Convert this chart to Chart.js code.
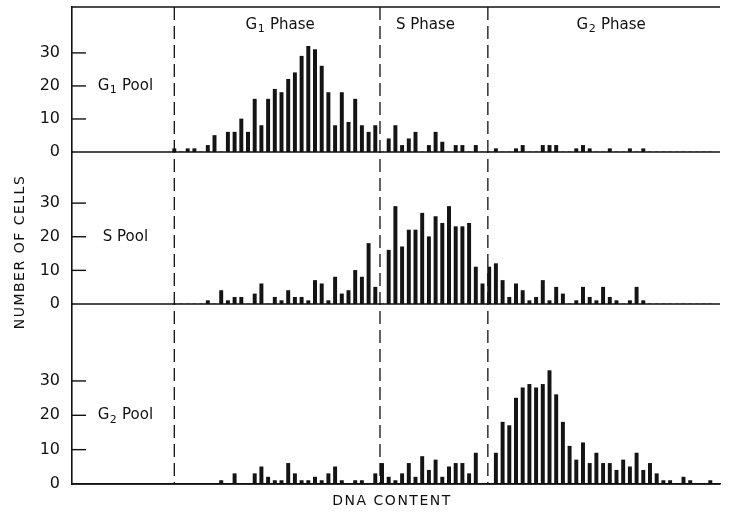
<!DOCTYPE html>
<html><head><meta charset="utf-8">
<script src="https://cdn.jsdelivr.net/npm/chart.js@4/dist/chart.umd.min.js"></script>
<style>html,body{margin:0;padding:0;background:#fff;}#wrap{width:735px;height:512px;}</style>
</head><body><div id="wrap"><canvas id="c" width="735" height="512"></canvas></div>
<script>
// DNA content channel (bin) numbers
const bins = [0,1,2,3,4,5,6,7,8,9,10,11,12,13,14,15,16,17,18,19,20,21,22,23,24,25,26,27,28,29,30,31,32,33,34,35,36,37,38,39,40,41,42,43,44,45,46,47,48,49,50,51,52,53,54,55,56,57,58,59,60,61,62,63,64,65,66,67,68,69,70,71,72,73,74,75,76,77,78,79,80];
// Number of cells per channel
const g1Pool = [1,0,1,1,0,2,5,0,6,6,10,6,16,8,16,19,18,22,24,29,32,31,26,18,8,18,9,16,8,6,8,0,4,8,2,4,6,0,2,6,3,0,2,2,0,2,0,0,1,0,0,1,2,0,0,2,2,2,0,0,1,2,1,0,0,1,0,0,1,0,1,0,0,0,0,0,0,0,0,0,0];
const sPool  = [0,0,0,0,0,1,0,4,1,2,2,0,3,6,0,2,1,4,2,2,1,7,6,1,8,3,4,10,8,18,5,0,16,29,17,22,22,27,20,26,24,29,23,23,24,11,6,11,12,7,2,6,4,1,2,7,1,5,3,0,1,5,2,1,5,2,1,0,1,5,1,0,0,0,0,0,0,0,0,0,0];
const g2Pool = [0,0,0,0,0,0,0,1,0,3,0,0,3,5,2,1,1,6,3,1,1,2,1,3,5,1,0,1,1,0,3,6,2,1,3,6,2,8,4,7,2,5,6,6,3,9,0,0,9,18,17,25,28,29,28,29,33,26,18,11,7,12,6,9,6,6,4,7,5,9,4,6,3,1,1,0,2,1,0,0,1];
const poolLabels = [["G","1"," Pool"],["S",""," Pool"],["G","2"," Pool"]];
const phaseLabels = [["G","1"," Phase"],["S",""," Phase"],["G","2"," Phase"]];
const phaseLabelPos = [15.8, 37.5, 65.2];       // x (channel) of phase label centres
const phaseBounds = [0, 30.7, 46.8];            // dashed phase boundaries (channel)
const yTicks = [0, 10, 20, 30];
const xTitle = "DNA CONTENT";
const yTitle = "NUMBER OF CELLS";

const FONT = "'DejaVu Sans', 'Liberation Sans', sans-serif";
const toXY = vals => bins.map((b, i) => ({x: b, y: vals[i]}));

function subText(ctx, parts, x, y, size) {
  const [a, s, b] = parts;
  ctx.font = size + "px " + FONT;
  const wa = ctx.measureText(a).width, wb = ctx.measureText(b).width;
  ctx.font = Math.round(size * 0.75) + "px " + FONT;
  const ws = s ? ctx.measureText(s).width + 1 : 0;
  let cx = x - (wa + ws + wb) / 2;
  ctx.textAlign = "left"; ctx.textBaseline = "middle";
  ctx.font = size + "px " + FONT; ctx.fillText(a, cx, y); cx += wa;
  if (s) { ctx.font = Math.round(size * 0.75) + "px " + FONT; ctx.fillText(s, cx + 0.5, y + size * 0.3); cx += ws; }
  ctx.font = size + "px " + FONT; ctx.fillText(b, cx, y);
}

const decor = {
  id: "decor",
  afterDraw(chart) {
    const {ctx, chartArea: ca, scales} = chart;
    const ys = [scales.yG1, scales.yS, scales.yG2];
    ctx.save();
    ctx.strokeStyle = "#111"; ctx.fillStyle = "#111";
    ctx.lineWidth = 1.6;
    ctx.beginPath(); ctx.moveTo(ca.left, ca.top); ctx.lineTo(ca.right, ca.top); ctx.stroke();
    ys.forEach(s => { const y = s.getPixelForValue(0); ctx.beginPath(); ctx.moveTo(ca.left, y); ctx.lineTo(ca.right, y); ctx.stroke(); });
    ctx.lineWidth = 1.4;
    ys.forEach(s => yTicks.slice(1).forEach(v => { const y = s.getPixelForValue(v); ctx.beginPath(); ctx.moveTo(ca.left, y); ctx.lineTo(ca.left + 14, y); ctx.stroke(); }));
    ctx.lineWidth = 1.3; ctx.setLineDash([13, 6]);
    phaseBounds.forEach(v => { const x = scales.x.getPixelForValue(v); ctx.beginPath(); ctx.moveTo(x, ca.top); ctx.lineTo(x, ca.bottom); ctx.stroke(); });
    ctx.setLineDash([]);
    phaseLabels.forEach((p, i) => subText(ctx, p, scales.x.getPixelForValue(phaseLabelPos[i]), ca.top + 18, 15));
    poolLabels.forEach((p, i) => subText(ctx, p, scales.x.getPixelForValue(-7.3), ys[i].getPixelForValue(20), 15));
    ctx.font = "14px " + FONT; ctx.textAlign = "center"; ctx.textBaseline = "middle";
    ctx.letterSpacing = "1.5px";
    ctx.fillText(xTitle, scales.x.getPixelForValue(32.5), ca.bottom + 17);
    ctx.translate(20, 252); ctx.rotate(-Math.PI / 2);
    ctx.fillText(yTitle, 0, 0);
    ctx.restore();
  }
};

const yAxis = (max, w, sw) => ({
  type: "linear", position: "left", stack: "pools", stackWeight: sw, weight: w,
  min: 0, max: max,
  ticks: { stepSize: 10, color: "#111", padding: 12, font: {family: FONT, size: 16},
    callback: v => (yTicks.includes(v) ? String(v) : null) },
  grid: { display: false, drawTicks: false },
  border: { display: true, color: "#111", width: 1.6 },
  afterFit: s => { s.width = 72; s.paddingTop = 0; s.paddingBottom = 0; }
});

const ds = (label, vals, axis) => ({
  label, data: toXY(vals), yAxisID: axis, backgroundColor: "#141414",
  barThickness: 3.3, grouped: false
});

new Chart(document.getElementById("c"), {
  type: "bar",
  data: { datasets: [ds("G1 Pool", g1Pool, "yG1"), ds("S Pool", sPool, "yS"), ds("G2 Pool", g2Pool, "yG2")] },
  options: {
    responsive: false, animation: false,
    layout: { padding: { top: 7, right: 15, left: 0, bottom: 0 } },
    plugins: { legend: { display: false }, tooltip: { enabled: false } },
    scales: {
      x: { type: "linear", offset: false, min: -15.27, max: 81.45, position: "bottom",
        grid: { display: false, drawTicks: false, offset: false }, ticks: { display: false },
        border: { display: true, color: "#111", width: 1.6 },
        afterFit: s => { s.height = 28; s.paddingLeft = 0; s.paddingRight = 0; } },
      yG1: yAxis(43.9, 3, 145),
      yS: yAxis(45.2, 2, 152),
      yG2: yAxis(52.4, 1, 180)
    }
  },
  plugins: [decor]
});
</script></body></html>
